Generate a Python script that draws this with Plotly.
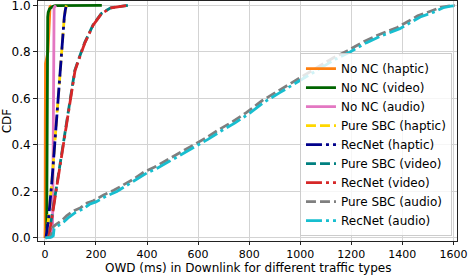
import plotly.graph_objects as go

# ---- data (OWD in ms, CDF values) ----
nonc_haptic_x = [0, 1, 1.5, 2.5, 12, 15, 17, 20, 25]
nonc_haptic_y = [0, 0.05, 0.5, 0.75, 0.8, 0.9, 0.98, 0.995, 1.0]

nonc_video_x = [7, 8, 9, 10, 11, 13, 18, 30, 40, 223]
nonc_video_y = [0, 0.3, 0.7, 0.9, 0.95, 0.97, 0.985, 0.995, 0.999, 1.0]

nonc_audio_x = [25, 30, 32, 33, 34, 36, 43]
nonc_audio_y = [0, 0.05, 0.3, 0.7, 0.95, 0.99, 1.0]

sbc_haptic_x = [4, 14, 28, 45, 60, 68, 76, 80, 84]
sbc_haptic_y = [0, 0.08, 0.25, 0.5, 0.75, 0.85, 0.95, 0.98, 1.0]

rec_haptic_x = [4, 14, 28, 45, 60, 68, 76, 80, 84]
rec_haptic_y = [0, 0.08, 0.25, 0.5, 0.75, 0.85, 0.95, 0.98, 1.0]

sbc_video_x = [14, 21, 37, 51, 69, 84, 99, 117, 136, 156, 188, 221, 258, 298, 325]
sbc_video_y = [0, 0.05, 0.16, 0.25, 0.38, 0.5, 0.6, 0.72, 0.78, 0.84, 0.915, 0.965, 0.99, 0.997, 1.0]

rec_video_x = [15, 22, 38, 52, 70, 85, 100, 118, 137, 157, 189, 222, 260, 300, 327]
rec_video_y = [0, 0.05, 0.16, 0.25, 0.38, 0.5, 0.6, 0.72, 0.78, 0.84, 0.915, 0.965, 0.99, 0.997, 1.0]

sbc_audio_x = [2, 20, 26, 30, 40, 52, 66, 85, 110, 140, 165, 190, 230, 270, 310, 350, 390,
               430, 470, 510, 550, 590, 630, 680, 735, 790, 850, 910, 970, 1020, 1080, 1130,
               1185, 1250, 1310, 1380, 1420, 1460, 1510, 1550, 1585, 1605]
sbc_audio_y = [0, 0.003, 0.02, 0.045, 0.055, 0.065, 0.075, 0.095, 0.115, 0.13, 0.15, 0.16, 0.185,
               0.205, 0.23, 0.255, 0.285, 0.305, 0.33, 0.355, 0.38, 0.405, 0.43, 0.465, 0.5,
               0.54, 0.59, 0.63, 0.67, 0.705, 0.745, 0.775, 0.805, 0.845, 0.875, 0.905,
               0.93, 0.955, 0.975, 0.992, 0.998, 1.0]

rec_audio_x = [2, 25, 33, 36, 48, 60, 75, 95, 120, 150, 175, 200, 240, 282, 320, 360, 400,
               440, 480, 520, 560, 600, 640, 690, 745, 800, 860, 920, 980, 1030, 1090, 1140,
               1195, 1260, 1320, 1390, 1430, 1470, 1520, 1560, 1590, 1612]
rec_audio_y = [0, 0.003, 0.01, 0.04, 0.05, 0.058, 0.07, 0.09, 0.11, 0.125, 0.145, 0.155, 0.18,
               0.2, 0.225, 0.25, 0.28, 0.3, 0.325, 0.35, 0.375, 0.4, 0.425, 0.46, 0.495,
               0.535, 0.585, 0.625, 0.665, 0.7, 0.74, 0.77, 0.8, 0.84, 0.87, 0.9, 0.925,
               0.95, 0.97, 0.99, 0.997, 1.0]

x_ticks = [0, 200, 400, 600, 800, 1000, 1200, 1400, 1600]
y_ticks = [0.0, 0.2, 0.4, 0.6, 0.8, 1.0]
x_title = "OWD (ms) in Downlink for different traffic types"
y_title = "CDF"

DASH = "10px,4px"
DASHDOT = "16px,4px,3px,4px"

series = [
    ("No NC (haptic)", nonc_haptic_x, nonc_haptic_y, "#ff7f0e", "solid"),
    ("No NC (video)", nonc_video_x, nonc_video_y, "#006400", "solid"),
    ("No NC (audio)", nonc_audio_x, nonc_audio_y, "#e377c2", "solid"),
    ("Pure SBC (haptic)", sbc_haptic_x, sbc_haptic_y, "#ffd700", DASH),
    ("RecNet (haptic)", rec_haptic_x, rec_haptic_y, "#00008b", DASHDOT),
    ("Pure SBC (video)", sbc_video_x, sbc_video_y, "#008080", DASH),
    ("RecNet (video)", rec_video_x, rec_video_y, "#d62728", DASHDOT),
    ("Pure SBC (audio)", sbc_audio_x, sbc_audio_y, "#7f7f7f", DASH),
    ("RecNet (audio)", rec_audio_x, rec_audio_y, "#17becf", DASHDOT),
]

fig = go.Figure()
for i, (name, xs, ys, color, dash) in enumerate(series):
    fig.add_trace(go.Scatter(
        x=xs, y=ys, mode="lines", name=name,
        line=dict(color=color, width=2.8, dash=dash),
    ))

font = dict(family="DejaVu Sans", size=12, color="black")
xtick_font = dict(family="DejaVu Sans", size=11, color="black")
legend_font = dict(family="DejaVu Sans", size=12, color="black")

fig.update_layout(
    width=469, height=276,
    margin=dict(l=38, r=12, t=1, b=35),
    paper_bgcolor="white", plot_bgcolor="white",
    font=font,
    showlegend=True,
    legend=dict(
        x=0.988, xanchor="right", y=0.02, yanchor="bottom",
        bgcolor="rgba(255,255,255,0.8)", bordercolor="#cccccc", borderwidth=1,
        font=legend_font, itemwidth=30,
    ),
    annotations=[dict(
        text=x_title, xref="paper", yref="paper", x=0.5, y=-0.1455,
        xanchor="center", yanchor="bottom", showarrow=False, font=font, borderpad=0,
    )],
)
fig.update_xaxes(
    range=[-27, 1614], tickvals=x_ticks, ticktext=[str(v) for v in x_ticks],
    showgrid=True, gridcolor="#d3d3d3", gridwidth=1, zeroline=False,
    showline=True, mirror=True, linecolor="#222222", linewidth=1,
    ticks="outside", ticklen=3, tickcolor="#222222", automargin=False,
    tickfont=xtick_font,
)
fig.update_yaxes(
    range=[-0.013, 1.019], tickvals=y_ticks, ticktext=[f"{v:.1f}" for v in y_ticks],
    showgrid=True, gridcolor="#d3d3d3", gridwidth=1, zeroline=False,
    showline=True, mirror=True, linecolor="#222222", linewidth=1,
    ticks="outside", ticklen=4, tickcolor="#222222", automargin=False,
    ticklabeloverflow="allow",
    title=dict(text=y_title, font=font, standoff=3),
)

fig.write_html("out.html", config={"displayModeBar": False},
               post_script="document.body.style.margin='0';")
